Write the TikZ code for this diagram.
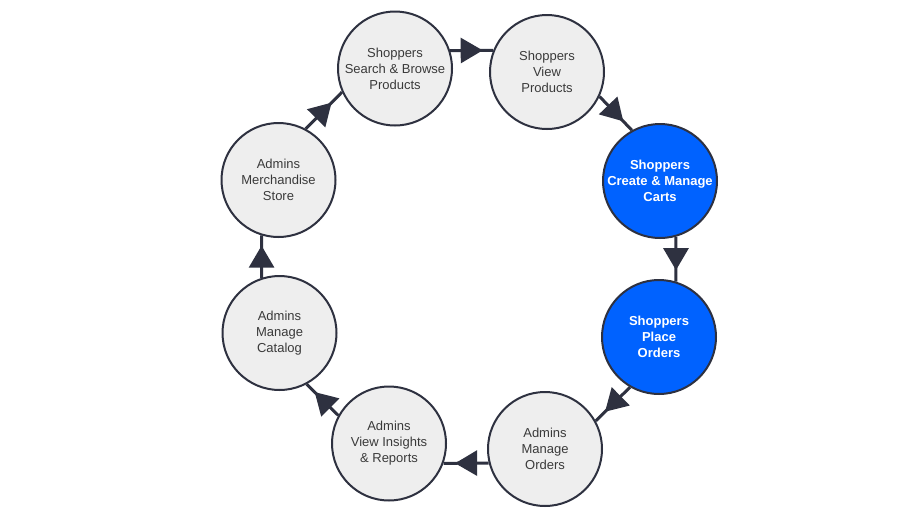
\documentclass[tikz,border=0pt]{standalone}
\usepackage{fontspec}
\setmainfont{Liberation Sans}
\usetikzlibrary{arrows.meta,decorations.markings,calc}
\definecolor{edgecol}{HTML}{2E3140}
\definecolor{fillgray}{HTML}{EEEEEE}
\definecolor{blueact}{HTML}{0062FF}
\definecolor{textgray}{HTML}{3A3A3A}
\tikzset{
  stepnode/.style={circle, draw=edgecol, line width=2pt, fill=fillgray,
    minimum size=114pt, inner sep=0pt, align=center, text=textgray,
    font=\fontsize{13}{16}\selectfont},
  activenode/.style={stepnode, fill=blueact, text=white,
    font=\fontsize{13}{16}\selectfont\bfseries},
  flow/.style={draw=edgecol, line width=3pt, postaction={decorate},
    decoration={markings, mark=at position 0.5 with
      {\arrow[xshift=11pt, edgecol]{Triangle[length=22pt,width=25pt]}}}}
}
\begin{document}
\begin{tikzpicture}[x=1pt,y=1pt]
  \useasboundingbox (0,0) rectangle (922,-523);
  \fill[white] (0,0) rectangle (922,-523);
  \node[stepnode] (n1) at (395,-68.5) {Shoppers\\Search \& Browse\\Products};
  \node[stepnode] (n2) at (547,-72) {Shoppers\\View\\Products};
  \node[activenode] (n3) at (660,-181) {Shoppers\\Create \& Manage\\Carts};
  \node[activenode] (n4) at (659,-337) {Shoppers\\Place\\Orders};
  \node[stepnode] (n5) at (545,-449) {Admins\\Manage\\Orders};
  \node[stepnode] (n6) at (389,-443.5) {Admins\\View Insights\\\& Reports};
  \node[stepnode] (n7) at (279.5,-333) {Admins\\Manage\\Catalog};
  \node[stepnode] (n8) at (278.5,-180) {Admins\\Merchandise\\Store};
  \draw[flow] (n1.18) -- (n2.158);
  \draw[flow] (n2.-25) -- (n3.119);
  \draw[flow] (n3.-74) -- (n4.73);
  \draw[flow] (n4.-120) -- (n5.29);
  \draw[flow] (n5.194) -- (n6.-20);
  \draw[flow] (n6.151) -- (n7.-62);
  \draw[flow] (n7.108) -- (n8.-107);
  \draw[flow] (n8.62) -- (n1.204);
\end{tikzpicture}
\end{document}
